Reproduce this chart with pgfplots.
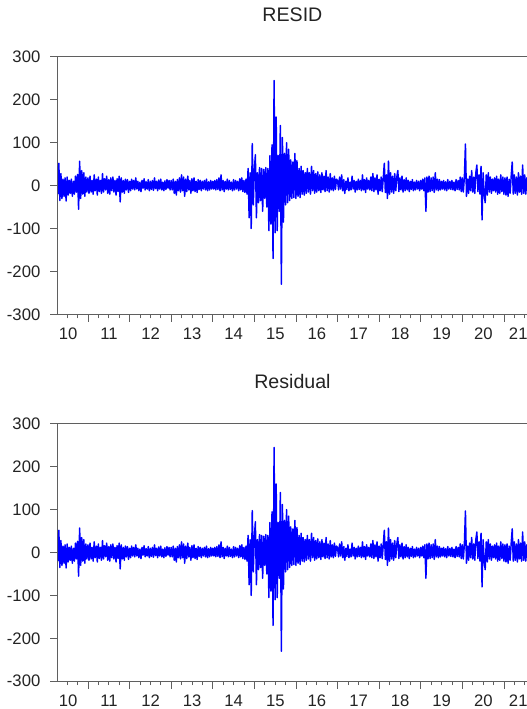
\documentclass[border=0pt]{standalone}
\usepackage{fontspec}
\setmainfont{Liberation Sans}
\usepackage{pgfplots}
\usepackage{pgfplotstable}
\pgfplotsset{compat=1.18}

\definecolor{evblue}{RGB}{0,0,255}
\definecolor{axgray}{RGB}{95,95,95}
\definecolor{txtgray}{RGB}{35,35,35}

% residuals, 40 obs per year starting 2010.27
\pgfplotstableread{
r
-20
52
-35
28
-30
15
-25
18
-36
20
-22
12
-18
15
-25
10
-20
22
-15
26
-55
57
-30
35
-20
30
-25
20
-15
18
-18
22
-15
12
-20
25
-12
15
-22
20
-14
12
-18
28
-15
16
-10
22
-18
14
-20
18
-12
20
-15
12
-22
16
-14
22
-38
18
-15
12
-18
15
-10
14
-16
10
-12
15
-8
12
-10
18
-8
10
-12
8
-14
12
-6
16
-10
9
-8
14
-12
10
-9
12
-11
18
-7
10
-12
13
-8
15
-10
8
-12
11
-9
14
-6
12
-10
12
-10
15
-18
10
-22
14
-12
18
-15
25
-12
20
-25
15
-14
22
-10
12
-18
16
-12
18
-14
10
-16
14
-9
12
-12
10
-8
12
-10
15
-12
9
-10
12
-8
10
-8
12
-10
14
-9
18
-12
25
-10
12
-14
10
-8
15
-10
12
-9
8
-12
14
-10
12
-8
10
-12
16
-10
18
-14
12
-16
15
-20
40
-75
30
-100
98
-45
35
72
-75
30
-40
42
-35
40
-60
38
-30
42
-50
40
-105
70
-90
95
-170
245
-110
160
-105
70
-60
140
-230
112
-85
75
-45
100
-40
85
-35
60
-30
55
-28
75
-30
58
-25
40
-28
45
-20
35
-22
30
-18
40
-15
30
-20
45
-12
35
-18
28
-15
32
-12
25
-16
30
-10
22
-14
35
-12
20
-15
28
-10
18
-12
22
-9
15
12
-10
20
-8
25
-12
14
-18
10
-9
18
-12
8
-10
22
-8
12
-15
10
-10
15
-9
12
-12
25
-10
14
-16
18
-8
12
-10
20
-12
28
-14
18
-10
25
-20
15
-12
20
-14
18
52
-16
25
-30
57
-20
30
-15
22
-18
28
-12
20
35
-14
18
-10
22
-15
14
-12
18
-10
12
-14
10
-9
14
-12
8
-10
12
-8
10
-12
12
-8
15
-12
18
-60
20
-15
22
-14
18
-12
20
-16
30
-10
15
-12
14
-10
10
-8
12
-10
9
-12
14
-8
10
-9
12
-10
8
-12
14
-9
12
-10
20
-14
18
-15
20
97
-25
15
-18
22
-12
35
-15
20
-18
30
48
-14
25
-20
45
-80
30
-18
-40
25
-22
30
-15
20
-18
15
-12
18
-15
22
-20
15
-18
25
-14
20
-20
18
-22
20
-25
15
-18
22
55
-20
25
-18
20
-22
30
-15
22
-20
48
-18
25
-20
18
-15
20
-18
15
}\resid

\pgfplotsset{
  evstyle/.style={
    scale only axis,
    width=355.95pt, height=193pt,
    xmin=2010.27, xmax=2021.68,
    ymin=-300, ymax=300,
    ytick={-300,-200,-100,0,100,200,300},
    yticklabels={-300,-200,-100,0,100,200,300},
    xtick={2011,2012,2013,2014,2015,2016,2017,2018,2019,2020,2021},
    xticklabels={},
    minor xtick={2010.5,2010.75,2011.25,2011.5,2011.75,2012.25,2012.5,2012.75,
      2013.25,2013.5,2013.75,2014.25,2014.5,2014.75,2015.25,2015.5,2015.75,
      2016.25,2016.5,2016.75,2017.25,2017.5,2017.75,2018.25,2018.5,2018.75,
      2019.25,2019.5,2019.75,2020.25,2020.5,2020.75,2021.25,2021.5},
    extra x ticks={2010.52,2011.5,2012.5,2013.5,2014.5,2015.5,2016.5,2017.5,2018.5,2019.5,2020.5,2021.34},
    extra x tick labels={10,11,12,13,14,15,16,17,18,19,20,21},
    extra x tick style={major tick length=0pt},
    tick align=outside,
    xtick pos=bottom, ytick pos=left,
    major tick length=5.6pt, minor tick length=3pt,
    axis line style={axgray, line width=0.75pt},
    every tick/.style={axgray, line width=0.75pt},
    tick label style={font=\fontsize{12.5}{14}\selectfont, text=txtgray},
    xticklabel style={yshift=-6.5pt},
    yticklabel style={xshift=-4pt},
    title style={font=\fontsize{14.7}{17}\selectfont, text=txtgray,
      at={(0.5,1)}, anchor=center, xshift=-2pt, yshift=25.5pt},
  },
  resid/.style={evblue, line width=1.1pt, line join=round, no markers},
}

\begin{document}
\begin{tikzpicture}

\begin{axis}[evstyle, title={RESID}, at={(43.35pt,-235.7pt)}, anchor=south west]
  \addplot[resid] table[x expr=2010.27+\coordindex/40, y=r] {\resid};
\end{axis}

\begin{axis}[evstyle, title={Residual}, at={(43.35pt,-510.9pt)}, anchor=south west]
  \addplot[resid] table[x expr=2010.27+\coordindex/40, y=r] {\resid};
\end{axis}

\pgfresetboundingbox
\path (0pt,-531.75pt) rectangle (395.25pt,0pt);
\end{tikzpicture}
\end{document}
